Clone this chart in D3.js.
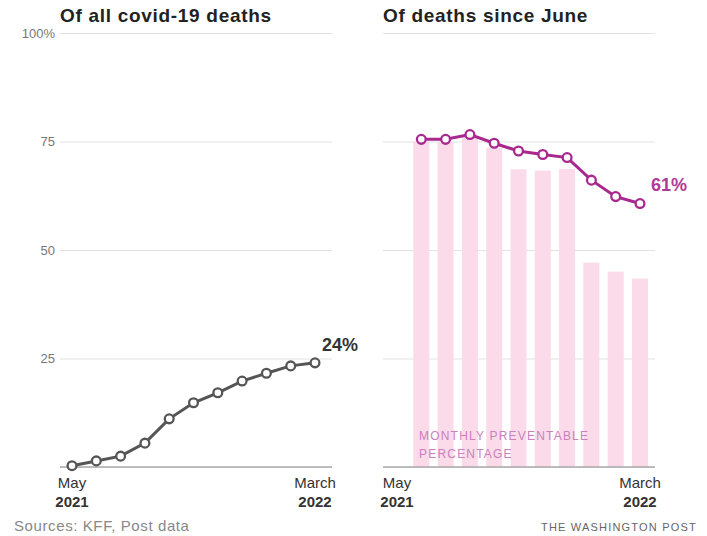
<!DOCTYPE html>
<html lang="en">
<head>
<meta charset="utf-8">
<title>Covid deaths preventable</title>
<script src="https://cdnjs.cloudflare.com/ajax/libs/d3/7.8.5/d3.min.js"></script>
<style>
  body { margin: 0; background: #fff; }
  text { font-family: "Liberation Sans", Arial, sans-serif; }
</style>
</head>
<body>
<div id="chart"></div>
<script>
// months May 2021 .. March 2022
var months = ["May", "Jun", "Jul", "Aug", "Sep", "Oct", "Nov", "Dec", "Jan", "Feb", "Mar"];
var allDeaths = [0.3, 1.4, 2.5, 5.5, 11.1, 14.8, 17.1, 19.8, 21.6, 23.3, 24];
// since June (starts at Jun)
var sinceJuneMonths = ["Jun", "Jul", "Aug", "Sep", "Oct", "Nov", "Dec", "Jan", "Feb", "Mar"];
var sinceJune = [75.5, 75.5, 76.6, 74.6, 72.8, 72.0, 71.3, 66.1, 62.3, 60.7];
var monthly = [75, 75, 76, 73.5, 68.6, 68.3, 68.7, 47.1, 45, 43.4];
var yTicks = [0, 25, 50, 75, 100];

var width = 707, height = 536;
var svg = d3.select("#chart").append("svg")
    .attr("width", width)
    .attr("height", height);

var y = d3.scaleLinear().domain([0, 100]).range([467, 33]);

function panel(x0, x1, title, showLabels) {
    var g = svg.append("g");
    var yAxis = d3.axisLeft(y)
        .tickValues(yTicks)
        .tickSize(-(x1 - x0))
        .tickFormat(function(d) {
            if (!showLabels || d == 0) return "";
            return d == 100 ? "100%" : d;
        });
    var ax = g.append("g")
        .attr("transform", "translate(" + x0 + ",0)")
        .call(yAxis);
    ax.select(".domain").remove();
    ax.selectAll(".tick line").attr("stroke", "#e2e2e2").attr("stroke-width", 1);
    ax.selectAll(".tick text")
        .attr("x", -5)
        .attr("font-size", 13)
        .attr("fill", "#777")
        .attr("font-family", "Liberation Sans Narrow, Liberation Sans, sans-serif");
    g.append("text")
        .attr("x", x0)
        .attr("y", 22)
        .attr("font-size", 19)
        .attr("letter-spacing", 0.7)
        .attr("font-weight", "bold")
        .attr("fill", "#222")
        .text(title);
    return g;
}

function baseline(g, x0, x1) {
    g.append("line")
        .attr("x1", x0).attr("x2", x1)
        .attr("y1", y(0)).attr("y2", y(0))
        .attr("stroke", "#aaa")
        .attr("stroke-width", 1.5);
}

function xLabels(g, x) {
    var ends = [["May", "2021"], ["Mar", "2022"]];
    var names = {"May": "May", "Mar": "March"};
    ends.forEach(function(e) {
        g.append("text")
            .attr("x", x(e[0]))
            .attr("y", 488)
            .attr("text-anchor", "middle")
            .attr("font-size", 15)
            .attr("fill", "#333")
            .attr("font-family", "Liberation Sans Narrow, Liberation Sans, sans-serif")
            .text(names[e[0]]);
        g.append("text")
            .attr("x", x(e[0]))
            .attr("y", 507)
            .attr("text-anchor", "middle")
            .attr("font-size", 15)
            .attr("font-weight", "bold")
            .attr("fill", "#333")
            .text(e[1]);
    });
}

function drawLine(g, x, cats, vals, color) {
    var pts = cats.map(function(c, i) { return {m: c, v: vals[i]}; });
    var line = d3.line()
        .x(function(d) { return x(d.m); })
        .y(function(d) { return y(d.v); });
    g.append("path")
        .datum(pts)
        .attr("d", line)
        .attr("fill", "none")
        .attr("stroke", color)
        .attr("stroke-width", 3);
    g.selectAll("circle.pt")
        .data(pts)
        .enter()
        .append("circle")
        .attr("class", "pt")
        .attr("cx", function(d) { return x(d.m); })
        .attr("cy", function(d) { return y(d.v); })
        .attr("r", 4.4)
        .attr("fill", "#fff")
        .attr("stroke", color)
        .attr("stroke-width", 2.3);
    return pts;
}

// left panel
var left = panel(60, 332, "Of all covid-19 deaths", true);
var xL = d3.scalePoint().domain(months).range([72, 315]);
baseline(left, 60, 332);
var lp = drawLine(left, xL, months, allDeaths, "#555");
var lastL = lp[lp.length - 1];
left.append("text")
    .attr("x", xL(lastL.m) + 7)
    .attr("y", y(lastL.v) - 12)
    .attr("font-size", 18)
    .attr("font-weight", "bold")
    .attr("fill", "#333")
    .text(Math.round(lastL.v) + "%");
xLabels(left, xL);

// right panel
var right = panel(383, 655, "Of deaths since June", false);
var xR = d3.scalePoint().domain(months).range([397, 640]);
var bw = 16;
right.selectAll("rect.bar")
    .data(sinceJuneMonths.map(function(c, i) { return {m: c, v: monthly[i]}; }))
    .enter()
    .append("rect")
    .attr("class", "bar")
    .attr("x", function(d) { return xR(d.m) - bw / 2; })
    .attr("y", function(d) { return y(d.v); })
    .attr("width", bw)
    .attr("height", function(d) { return y(0) - y(d.v); })
    .attr("fill", "#fbdbe9");
baseline(right, 383, 655);
right.append("text")
    .attr("x", 419)
    .attr("y", 440)
    .attr("font-size", 12)
    .attr("letter-spacing", 1.2)
    .attr("fill", "#cc7fbb")
    .text("MONTHLY PREVENTABLE");
right.append("text")
    .attr("x", 419)
    .attr("y", 458)
    .attr("font-size", 12)
    .attr("letter-spacing", 1.2)
    .attr("fill", "#cc7fbb")
    .text("PERCENTAGE");
var rp = drawLine(right, xR, sinceJuneMonths, sinceJune, "#a8288e");
var lastR = rp[rp.length - 1];
right.append("text")
    .attr("x", xR(lastR.m) + 11)
    .attr("y", y(lastR.v) - 13)
    .attr("font-size", 18)
    .attr("font-weight", "bold")
    .attr("fill", "#b23a96")
    .text(Math.round(lastR.v) + "%");
xLabels(right, xR);

// footer
svg.append("text")
    .attr("x", 14)
    .attr("y", 531)
    .attr("font-size", 15)
    .attr("letter-spacing", 0.6)
    .attr("fill", "#888")
    .text("Sources: KFF, Post data");
svg.append("text")
    .attr("x", 697)
    .attr("y", 531)
    .attr("text-anchor", "end")
    .attr("font-size", 11)
    .attr("letter-spacing", 1.2)
    .attr("fill", "#666")
    .text("THE WASHINGTON POST");
</script>
</body>
</html>
